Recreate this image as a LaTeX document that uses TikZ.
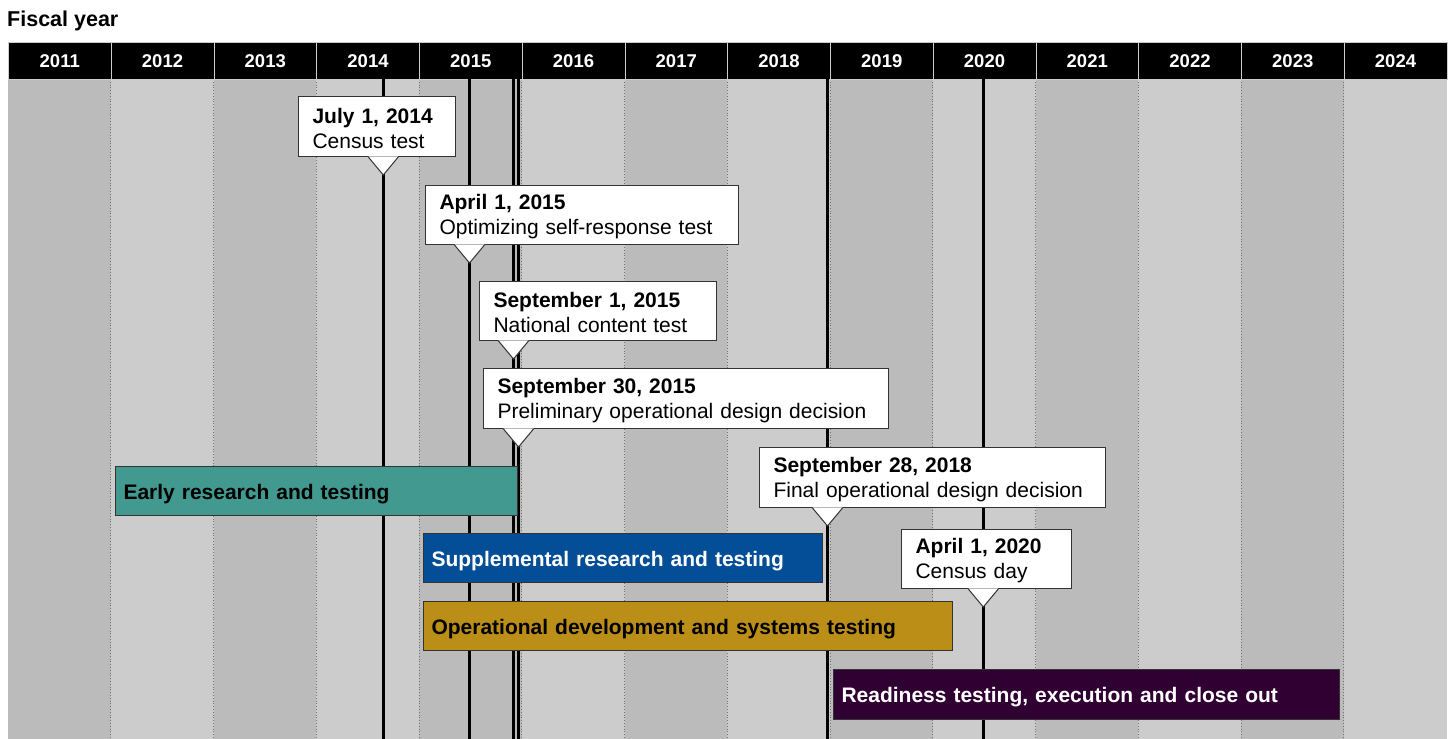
\documentclass[tikz,border=0pt]{standalone}
\usepackage{fontspec}
\setmainfont{Liberation Sans}
\usetikzlibrary{calc}
\definecolor{colDark}{HTML}{BBBBBB}
\definecolor{colLight}{HTML}{CCCCCC}
\definecolor{barTeal}{HTML}{41998F}
\definecolor{barBlue}{HTML}{034E96}
\definecolor{barGold}{HTML}{BB8E17}
\definecolor{barPurple}{HTML}{300032}
\definecolor{edgeGray}{HTML}{333333}
\newcommand{\upstrut}[1]{\rule{0pt}{#1}}
\begin{document}
\begin{tikzpicture}[x=1pt,y=-1pt,
  yearcell/.style={fill=black,draw=white!80!black,line width=0.8pt,minimum width=102.75pt,minimum height=37pt,inner sep=0pt,anchor=north west,text=white,font=\fontsize{18.5}{20}\selectfont\bfseries},
  milestone/.style={line width=3pt,black},
  callout/.style={fill=white,draw=edgeGray,line width=1pt,anchor=north west,inner xsep=14pt,inner ysep=0pt,align=left,font=\fontsize{21}{25}\selectfont},
  pointer/.style={fill=white,draw=edgeGray,line width=1pt,line join=miter},
  phasebar/.style={draw=edgeGray,line width=1pt,anchor=north west,inner xsep=8pt,inner ysep=0pt,align=left,font=\fontsize{21}{24}\selectfont\bfseries},
  divider/.style={draw=gray!90!black,line width=0.8pt,dotted}
]
\useasboundingbox (0,0) rectangle (1449,739);
\fill[white] (0,0) rectangle (1449,739);
% background columns
\foreach \i in {0,...,13}{
  \pgfmathtruncatemacro{\parity}{mod(\i,2)}
  \ifnum\parity=0
    \fill[colDark] ({8+102.75*\i},79) rectangle ({8+102.75*(\i+1)},739);
  \else
    \fill[colLight] ({8+102.75*\i},79) rectangle ({8+102.75*(\i+1)},739);
  \fi
}
\foreach \i in {1,...,13}{
  \draw[divider] ({8+102.75*\i},79) -- ({8+102.75*\i},739);
}
% title
\node[anchor=base west,inner sep=0pt,font=\fontsize{21.5}{23}\selectfont\bfseries] (title) at (7,26.5) {Fiscal year};
% header
\foreach \i in {0,...,13}{
  \pgfmathtruncatemacro{\yr}{2011+\i}
  \node[yearcell] (y\yr) at ({8+102.75*\i},42) {\yr};
}
% milestone lines
\coordinate (m1) at (383.3,79);
\coordinate (m2) at (469.5,79);
\coordinate (m3) at (513.5,79);
\coordinate (m4) at (518.5,79);
\coordinate (m5) at (827.5,79);
\coordinate (m6) at (983.3,79);
\coordinate (bot) at (0,739);
\foreach \m in {m1,m2,m3,m4,m5,m6}{
  \draw[milestone] (\m) -- (\m |- bot);
}
% phase bars
\node[phasebar,fill=barTeal,text=black,minimum width=402pt,minimum height=49pt,text width=386pt] (b1) at (115,466) {\upstrut{21pt}Early research and testing};
\node[phasebar,fill=barBlue,text=white,minimum width=399pt,minimum height=49pt,text width=383pt] (b2) at (423,533) {\upstrut{21pt}Supplemental research and testing};
\node[phasebar,fill=barGold,text=black,minimum width=529pt,minimum height=49pt,text width=513pt] (b3) at (423,601) {\upstrut{21pt}Operational development and systems testing};
\node[phasebar,fill=barPurple,text=white,minimum width=506pt,minimum height=50pt,text width=490pt] (b4) at (833,669) {\upstrut{21pt}Readiness testing, execution and close out};
% callouts
\node[callout,minimum width=157pt,minimum height=60pt,text width=129pt] (c1) at (298,96) {\upstrut{19pt}\textbf{July 1, 2014}\\Census test};
\node[callout,minimum width=313pt,minimum height=59pt,text width=285pt] (c2) at (425,185) {\upstrut{19pt}\textbf{April 1, 2015}\\Optimizing self-response test};
\node[callout,minimum width=237pt,minimum height=59pt,text width=209pt] (c3) at (479,281) {\upstrut{19pt}\textbf{September 1, 2015}\\National content test};
\node[callout,minimum width=405pt,minimum height=60pt,text width=377pt,inner xsep=12pt] (c4) at (483,368) {\upstrut{19pt}\textbf{September 30, 2015}\\Preliminary operational design decision};
\node[callout,minimum width=346pt,minimum height=60pt,text width=318pt] (c5) at (759,447) {\upstrut{19pt}\textbf{September 28, 2018}\\Final operational design decision};
\node[callout,minimum width=170pt,minimum height=59pt,text width=142pt] (c6) at (901,529) {\upstrut{19pt}\textbf{April 1, 2020}\\Census day};
% pointers
\foreach \c/\m in {c1/m1,c2/m2,c3/m3,c4/m4,c5/m5,c6/m6}{
  \coordinate (p) at (\m |- \c.south);
  \fill[white] ($(p)+(-15,-0.6)$) -- ($(p)+(0,18)$) -- ($(p)+(15,-0.6)$) -- cycle;
  \draw[pointer] ($(p)+(-15,0)$) -- ($(p)+(0,18)$) -- ($(p)+(15,0)$);
}
\end{tikzpicture}
\end{document}
